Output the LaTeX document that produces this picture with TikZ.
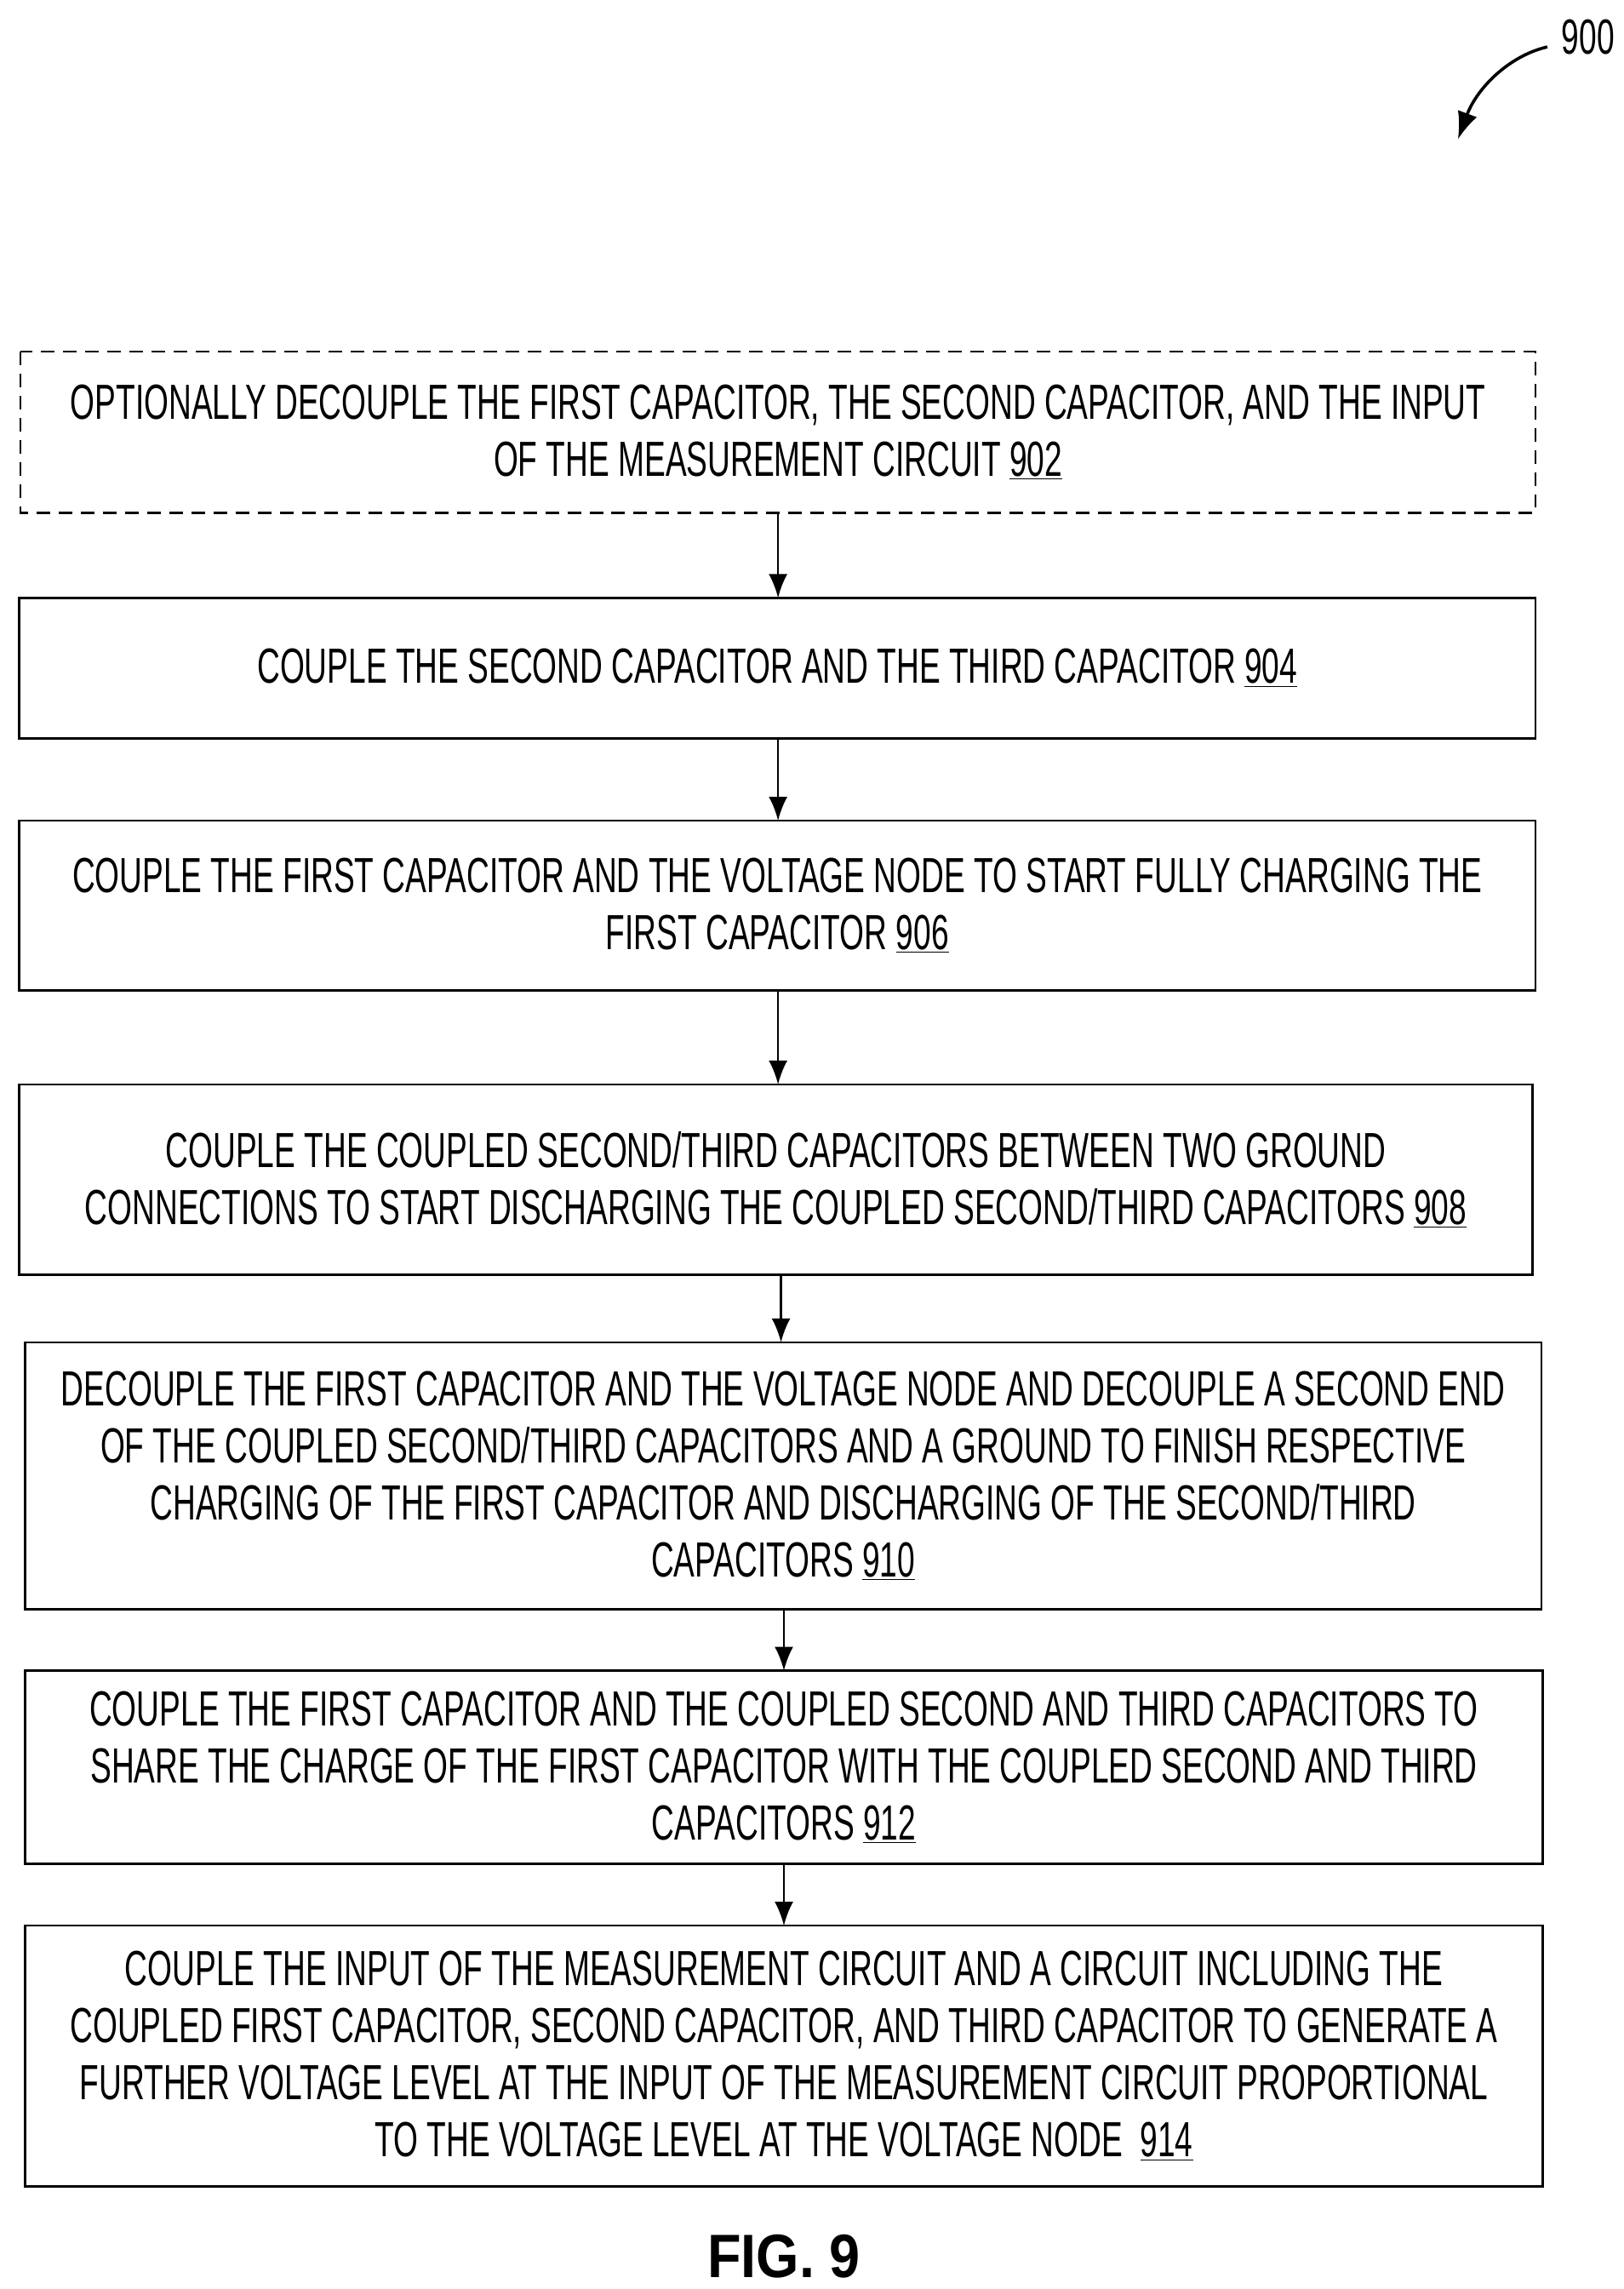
\documentclass[tikz,border=0pt]{standalone}
\usepackage{fontspec}
\usetikzlibrary{arrows.meta}
\setmainfont{Liberation Sans}[FakeStretch=0.64]
\newfontfamily\boldf{Liberation Sans}[FakeStretch=0.9]
\begin{document}
\begin{tikzpicture}[x=0.861pt,y=-0.861pt,
 box/.style={draw,line width=1.3pt,inner sep=0pt},
 txt/.style={align=center,font=\fontsize{29}{33.5}\selectfont},
 arr/.style={-{Latex[length=14pt,width=11pt]},line width=1.3pt}]
\useasboundingbox (0,0) rectangle (1108,1562);
\newcommand\bx[6]{\draw[box,#6] (#2,#3) rectangle (#4,#5); \coordinate (#1t) at ({(#2+#4)/2},#3); \coordinate (#1b) at ({(#2+#4)/2},#5); \coordinate (#1c) at ({(#2+#4)/2},{(#3+#5)/2});}
\bx{a}{14}{240}{1048}{350}{dashed,dash pattern=on 8pt off 5pt}
\bx{b}{13}{408}{1048}{504}{}
\bx{c}{13}{560}{1048}{676}{}
\bx{d}{13}{740}{1046}{870}{}
\bx{e}{17}{916}{1052}{1098}{}
\bx{f}{17}{1140}{1053}{1272}{}
\bx{g}{17}{1314}{1053}{1492}{}
\node[txt] (ta) at (ac) {OPTIONALLY DECOUPLE THE FIRST CAPACITOR, THE SECOND CAPACITOR, AND THE INPUT\\OF THE MEASUREMENT CIRCUIT \underline{902}};
\node[txt] (tb) at (bc) {COUPLE THE SECOND CAPACITOR AND THE THIRD CAPACITOR \underline{904}};
\node[txt] (tc) at (cc) {COUPLE THE FIRST CAPACITOR AND THE VOLTAGE NODE TO START FULLY CHARGING THE\\FIRST CAPACITOR \underline{906}};
\node[txt] (td) at (dc) {COUPLE THE COUPLED SECOND/THIRD CAPACITORS BETWEEN TWO GROUND\\CONNECTIONS TO START DISCHARGING THE COUPLED SECOND/THIRD CAPACITORS \underline{908}};
\node[txt] (te) at (ec) {DECOUPLE THE FIRST CAPACITOR AND THE VOLTAGE NODE AND DECOUPLE A SECOND END\\OF THE COUPLED SECOND/THIRD CAPACITORS AND A GROUND TO FINISH RESPECTIVE\\CHARGING OF THE FIRST CAPACITOR AND DISCHARGING OF THE SECOND/THIRD\\CAPACITORS \underline{910}};
\node[txt] (tf) at (fc) {COUPLE THE FIRST CAPACITOR AND THE COUPLED SECOND AND THIRD CAPACITORS TO\\SHARE THE CHARGE OF THE FIRST CAPACITOR WITH THE COUPLED SECOND AND THIRD\\CAPACITORS \underline{912}};
\node[txt] (tg) at (gc) {COUPLE THE INPUT OF THE MEASUREMENT CIRCUIT AND A CIRCUIT INCLUDING THE\\COUPLED FIRST CAPACITOR, SECOND CAPACITOR, AND THIRD CAPACITOR TO GENERATE A\\FURTHER VOLTAGE LEVEL AT THE INPUT OF THE MEASUREMENT CIRCUIT PROPORTIONAL\\TO THE VOLTAGE LEVEL AT THE VOLTAGE NODE\ \ \underline{914}};
\draw[arr] (531,350) -- (531,408);
\draw[arr] (531,504) -- (531,560);
\draw[arr] (531,676) -- (531,740);
\draw[arr] (533,870) -- (533,916);
\draw[arr] (535,1098) -- (535,1140);
\draw[arr] (535,1272) -- (535,1314);
\node[font=\boldf\bfseries\fontsize{36}{40}\selectfont] (fig) at (535,1540) {FIG. 9};
\node[font=\fontsize{29}{33}\selectfont,anchor=east,inner sep=0pt] (n900) at (1102,25) {900};
\coordinate (s) at (1056,32);
\draw[-{Latex[length=16pt,width=12pt]},line width=1.8pt] (s) .. controls (1030,38) and (1008,60) .. (995,95);
\end{tikzpicture}
\end{document}
